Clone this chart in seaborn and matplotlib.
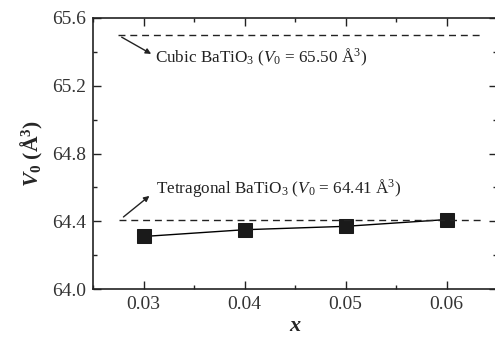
import matplotlib
matplotlib.use("Agg")
import matplotlib.pyplot as plt
import seaborn as sns
import pandas as pd
from matplotlib.ticker import MultipleLocator

x_vals = [0.03, 0.04, 0.05, 0.06]
v0_vals = [64.31, 64.35, 64.37, 64.41]
cubic_v0 = 65.50
tetra_v0 = 64.41
x_ticks = [0.03, 0.04, 0.05, 0.06]
y_ticks = [64.0, 64.4, 64.8, 65.2, 65.6]

sns.set_theme(style="ticks")
plt.rcParams['font.family'] = ['Liberation Serif', 'DejaVu Serif']
plt.rcParams['mathtext.fontset'] = 'custom'
plt.rcParams['mathtext.rm'] = 'Liberation Serif'
plt.rcParams['mathtext.it'] = 'Liberation Serif:italic'
plt.rcParams['mathtext.bf'] = 'Liberation Serif:bold'
plt.rcParams['mathtext.bfit'] = 'Liberation Serif:bold:italic'

df = pd.DataFrame({"x": x_vals, "V0": v0_vals})

fig = plt.figure(figsize=(4.95, 3.37), dpi=100)
ax = fig.add_axes([93/495, (337-289)/337, 404/495, 271/337])

sns.lineplot(data=df, x="x", y="V0", ax=ax, color="black", lw=1.0,
             marker="s", markersize=9.5, markerfacecolor="#1a1a1a",
             markeredgecolor="#1a1a1a")

ax.plot([0.0275, 0.0633], [cubic_v0, cubic_v0], ls=(0, (5, 3.5)), color="#222222", lw=1.0)
ax.plot([0.0276, 0.0636], [tetra_v0, tetra_v0], ls=(0, (5, 3.5)), color="#222222", lw=1.0)

ax.annotate("Cubic BaTiO$_3$ ($V_0$ = 65.50 Å$^3$)", xy=(0.0311, 65.365), xytext=(0.0311, 65.365),
            fontsize=12.3, va="center", ha="left", color="#222222")
ax.annotate("", xy=(0.0310, 65.38), xytext=(0.0276, 65.495),
            arrowprops=dict(arrowstyle="-|>", color="#222222", lw=1.0, mutation_scale=8))
ax.annotate("Tetragonal BaTiO$_3$ ($V_0$ = 64.41 Å$^3$)", xy=(0.0312, 64.595), xytext=(0.0312, 64.595),
            fontsize=12.3, va="center", ha="left", color="#222222")
ax.annotate("", xy=(0.0308, 64.56), xytext=(0.0278, 64.415),
            arrowprops=dict(arrowstyle="-|>", color="#222222", lw=1.0, mutation_scale=8))

ax.set_xlim(0.025, 0.065)
ax.set_ylim(64.0, 65.6)
ax.set_xticks(x_ticks)
ax.set_xticklabels([f"{t:.2f}" for t in x_ticks])
ax.set_yticks(y_ticks)
ax.set_yticklabels([f"{t:.1f}" for t in y_ticks])
ax.xaxis.set_minor_locator(MultipleLocator(0.005))
ax.yaxis.set_minor_locator(MultipleLocator(0.2))
ax.tick_params(which="both", direction="in", top=True, right=True, colors="#222222",
               labelcolor="#333333", labelsize=14, width=1.0)
ax.tick_params(which="major", length=6, pad=5)
ax.tick_params(which="minor", length=3)
for s in ax.spines.values():
    s.set_linewidth(1.2)
    s.set_color("#222222")

ax.set_xlabel(r"$\mathbfit{x}$", fontsize=16, labelpad=3)
ax.set_ylabel(r"$\mathbfit{V}_\mathbf{0}$ $\mathbf{(Å^3)}$", fontsize=15.5, labelpad=5)

fig.savefig("out.png", dpi=100)
